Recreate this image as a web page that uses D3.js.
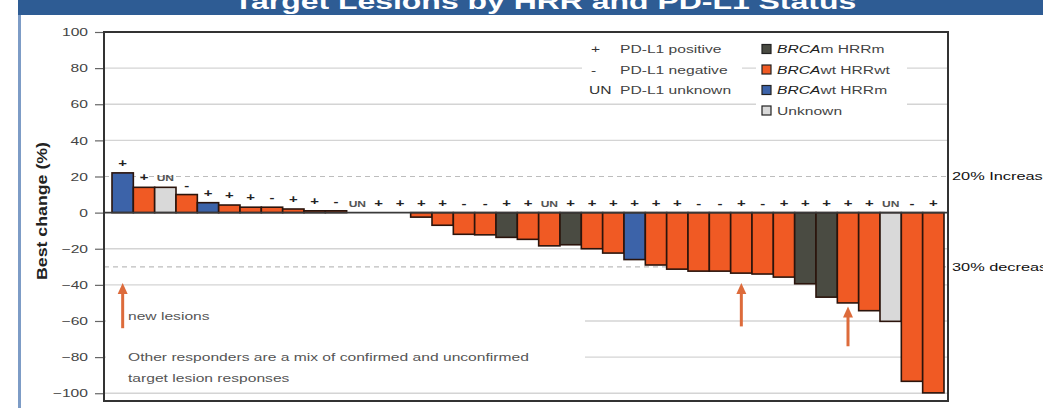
<!DOCTYPE html>
<html><head><meta charset="utf-8">
<script src="https://cdn.jsdelivr.net/npm/d3@7"></script>
<style>
html,body{margin:0;padding:0;background:#fff;overflow:hidden}
svg{display:block;font-family:"Liberation Sans",Arial,sans-serif}
</style></head><body>
<svg id="chart" width="1043" height="408"></svg>
<script>
// Best percentage change in target lesions, one bar per patient (sorted)
const patients = d3.range(1, 40);
const bestChange = [22, 14, 14, 10, 5.5, 4.2, 3, 3, 2, 1, 1, 0, 0, 0, -2.5, -7, -12, -12.3, -13.7, -14.8,
  -18.4, -17.8, -20, -22.4, -26, -29, -31.3, -32.4, -32.4, -33.5, -34, -35.7, -39.4, -46.8, -50, -54.3,
  -60.2, -93.4, -99.8];
const hrrStatus = ["BRCAwt HRRm", "BRCAwt HRRwt", "Unknown", "BRCAwt HRRwt", "BRCAwt HRRm", "BRCAwt HRRwt",
  "BRCAwt HRRwt", "BRCAwt HRRwt", "BRCAwt HRRwt", "BRCAwt HRRwt", "BRCAwt HRRwt", "BRCAwt HRRwt", "BRCAwt HRRwt",
  "BRCAwt HRRwt", "BRCAwt HRRwt", "BRCAwt HRRwt", "BRCAwt HRRwt", "BRCAwt HRRwt", "BRCAm HRRm", "BRCAwt HRRwt",
  "BRCAwt HRRwt", "BRCAm HRRm", "BRCAwt HRRwt", "BRCAwt HRRwt", "BRCAwt HRRm", "BRCAwt HRRwt", "BRCAwt HRRwt",
  "BRCAwt HRRwt", "BRCAwt HRRwt", "BRCAwt HRRwt", "BRCAwt HRRwt", "BRCAwt HRRwt", "BRCAm HRRm", "BRCAm HRRm",
  "BRCAwt HRRwt", "BRCAwt HRRwt", "Unknown", "BRCAwt HRRwt", "BRCAwt HRRwt"];
const pdl1Status = ["+", "+", "UN", "-", "+", "+", "+", "-", "+", "+", "-", "UN", "+", "+", "+", "+", "-", "-",
  "+", "+", "UN", "+", "+", "+", "+", "+", "+", "-", "-", "+", "-", "+", "+", "+", "+", "+", "UN", "-", "+"];
// Patients with new lesions (arrow drawn under the bar, from/to in % units)
const newLesionPatients = [1, 30, 35];
const arrowFrom = [-64, -63, -74];
const arrowTo = [-39, -39, -52];

const hrrKeys = ["BRCAm HRRm", "BRCAwt HRRwt", "BRCAwt HRRm", "Unknown"];
const hrrColors = ["#4a4b42", "#f05a24", "#3c63a9", "#d9d9d9"];
const pdl1Keys = ["+", "-", "UN"];
const pdl1Names = ["PD-L1 positive", "PD-L1 negative", "PD-L1 unknown"];
const yTicks = d3.range(-100, 101, 20);
const refLines = [20, -30];
const refLabels = ["20% Increase", "30% decrease"];
const title = "Target Lesions by HRR and PD-L1 Status";

const SX = 1.42; // horizontal text stretch
const svg = d3.select("#chart");
const color = d3.scaleOrdinal(hrrKeys, hrrColors);

const pL = 104, pR = 948, pT = 32, pB = 401;
const x = d3.scaleBand(patients, [112, 944]).padding(0);
const y = d3.scaleLinear([-104.3, 100], [pB, pT]);

function stretched(sel, px, py) {
  return sel.attr("transform", `translate(${px},${py}) scale(${SX},1)`);
}

// header band and page frame
svg.append("rect").attr("x", 18).attr("y", 0).attr("width", 1025).attr("height", 15).attr("fill", "#2e5c94");
stretched(svg.append("text"), 545, 9).attr("text-anchor", "middle")
  .attr("font-size", 22.5).attr("font-weight", "bold").attr("fill", "#fff").text(title);
svg.append("line").attr("x1", 19.5).attr("x2", 19.5).attr("y1", 15).attr("y2", 408)
  .attr("stroke", "#7d9cc6").attr("stroke-width", 3);

// gridlines
const grid = svg.append("g");
grid.selectAll("line.g").data(yTicks.filter(t => t !== 0 && t !== 20 && t !== 100)).join("line")
  .attr("x1", pL).attr("x2", pR).attr("y1", d => y(d)).attr("y2", d => y(d))
  .attr("stroke", "#d4d4d4").attr("stroke-width", 1.3);
grid.selectAll("line.r").data(refLines).join("line")
  .attr("x1", pL).attr("x2", pR).attr("y1", d => y(d)).attr("y2", d => y(d))
  .attr("stroke", "#bdbdbd").attr("stroke-width", 1.2).attr("stroke-dasharray", "5,4");

// white panels behind legend and notes
svg.append("rect").attr("x", 582).attr("y", 39).attr("width", 160).attr("height", 60).attr("fill", "#fff");
svg.append("rect").attr("x", 756).attr("y", 39).attr("width", 151).attr("height", 80).attr("fill", "#fff");
svg.append("rect").attr("x", 106).attr("y", 298).attr("width", 479).attr("height", 89).attr("fill", "#fff");

// bars
const rows = patients.map((p, i) => ({p, v: bestChange[i], hrr: hrrStatus[i], pd: pdl1Status[i]}));
svg.append("g").selectAll("rect").data(rows.filter(d => d.v !== 0)).join("rect")
  .attr("x", d => x(d.p)).attr("width", x.bandwidth())
  .attr("y", d => y(Math.max(0, d.v))).attr("height", d => Math.abs(y(d.v) - y(0)))
  .attr("fill", d => color(d.hrr)).attr("stroke", "#2b140c").attr("stroke-width", 1.6);

// zero line
svg.append("line").attr("x1", pL).attr("x2", pR).attr("y1", y(0)).attr("y2", y(0))
  .attr("stroke", "#3a3a3a").attr("stroke-width", 1.6);

// PD-L1 markers above bars
svg.append("g").selectAll("text").data(rows).join("text")
  .each(function (d) { stretched(d3.select(this), x(d.p) + x.bandwidth() / 2, y(Math.max(0, d.v)) - 6); })
  .attr("text-anchor", "middle").attr("font-weight", "bold")
  .attr("font-size", d => d.pd === "UN" ? 8.5 : 10.5)
  .attr("fill", d => d.pd === "UN" ? "#555" : "#222")
  .text(d => d.pd);

// reference line labels
svg.append("g").selectAll("text").data(refLines).join("text")
  .each(function (d) { stretched(d3.select(this), 952, y(d) + 4); })
  .attr("font-size", 11.5).attr("fill", "#111").text((d, i) => refLabels[i]);

// y axis
const axis = svg.append("g").attr("transform", `translate(${pL},0)`)
  .call(d3.axisLeft(y).tickValues(yTicks).tickSize(9).tickFormat(d3.format("d")));
axis.select(".domain").remove();
axis.selectAll(".tick line").attr("stroke", "#666").attr("stroke-width", 1.2);
axis.selectAll(".tick text").attr("x", null).attr("dy", "0.34em")
  .attr("transform", `translate(-16,0) scale(${SX},1)`)
  .attr("font-size", 11).attr("fill", "#444").attr("font-family", "Liberation Sans, Arial, sans-serif");

svg.append("text").attr("transform", "translate(47,211) rotate(-90)")
  .attr("text-anchor", "middle").attr("font-size", 15).attr("font-weight", "bold").attr("fill", "#222")
  .attr("textLength", 138).attr("lengthAdjust", "spacingAndGlyphs").text("Best change (%)");

// plot frame
svg.append("rect").attr("x", pL).attr("y", pT).attr("width", pR - pL).attr("height", pB - pT)
  .attr("fill", "none").attr("stroke", "#333").attr("stroke-width", 2);

// legend: PD-L1 symbols
const legRowY = [49, 69.5, 90, 110.5];
const leg1 = svg.append("g");
pdl1Keys.forEach((k, i) => {
  stretched(leg1.append("text"), k === "UN" ? 589 : 591, legRowY[i] + 4)
    .attr("font-size", 11).attr("fill", "#333").text(k);
  stretched(leg1.append("text"), 620, legRowY[i] + 4)
    .attr("font-size", 11).attr("fill", "#444").text(pdl1Names[i]);
});
// legend: HRR status colours
const leg2 = svg.append("g");
hrrKeys.forEach((k, i) => {
  leg2.append("rect").attr("x", 762).attr("y", legRowY[i] - 4.5).attr("width", 9).attr("height", 9)
    .attr("fill", color(k)).attr("stroke", "#222").attr("stroke-width", 1.2);
  const t = stretched(leg2.append("text"), 777, legRowY[i] + 4).attr("font-size", 11).attr("fill", "#444");
  if (k.startsWith("BRCA")) {
    t.append("tspan").attr("font-style", "italic").attr("fill", "#222").text("BRCA");
    t.append("tspan").text(k.slice(4));
  } else {
    t.text(k);
  }
});

// notes
stretched(svg.append("text"), 128, 320).attr("font-size", 11).attr("fill", "#555").text("new lesions");
stretched(svg.append("text"), 128, 361).attr("font-size", 11).attr("fill", "#555")
  .text("Other responders are a mix of confirmed and unconfirmed");
stretched(svg.append("text"), 128, 382).attr("font-size", 11).attr("fill", "#555")
  .text("target lesion responses");

// new-lesion arrows
const arrows = svg.append("g").attr("fill", "#dd6b3b").attr("stroke", "#dd6b3b");
newLesionPatients.forEach((p, i) => {
  const cx = x(p) + x.bandwidth() / 2;
  const tip = y(arrowTo[i]), tail = y(arrowFrom[i]);
  arrows.append("line").attr("x1", cx).attr("x2", cx).attr("y1", tail).attr("y2", tip + 8)
    .attr("stroke-width", 3);
  arrows.append("path").attr("stroke", "none")
    .attr("d", `M${cx},${tip} L${cx - 5},${tip + 11} L${cx + 5},${tip + 11} Z`);
});
</script>
</body></html>
